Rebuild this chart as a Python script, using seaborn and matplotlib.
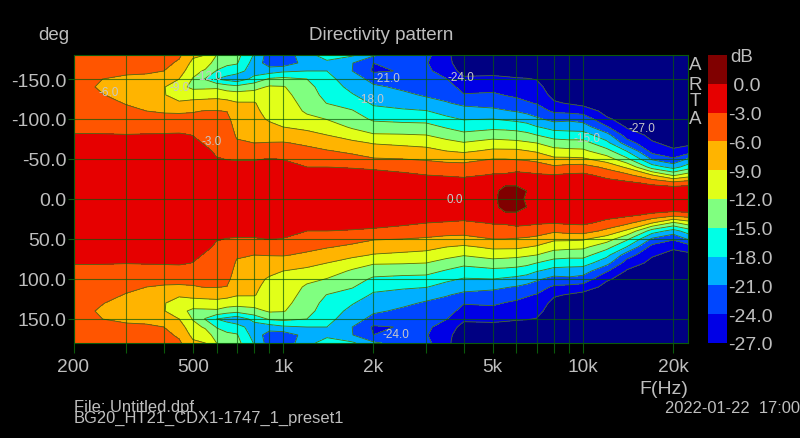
import matplotlib
matplotlib.use("Agg")
import matplotlib.pyplot as plt
from matplotlib.colors import ListedColormap, BoundaryNorm
import seaborn as sns
import pandas as pd
import numpy as np

# one side of the pattern, the other side is the mirror image
angulos = [0, 10, 20, 30, 40, 50, 60, 70, 80, 90, 100, 110, 120, 130, 140, 150, 160, 170, 180]
frecuencias = [200, 250, 300, 350, 400, 450, 500, 550, 600, 650, 700, 800, 900, 1000, 1200, 1400,
               1700, 2000, 2500, 3000, 3500, 4000, 5000, 5500, 6000, 6500, 7000, 8000, 9000, 10000,
               12000, 14000, 17000, 20000, 22400]

# dB por frecuencia
db = [
    [-.3, -.4, -.6, -.8, -1.1, -1.4, -1.8, -2.3, -2.9, -3.4, -3.8, -4.1, -4.4, -4.7, -5.0, -5.3, -5.4, -5.4, -5.3],
    [-.3, -.4, -.6, -.8, -1.1, -1.4, -1.8, -2.3, -2.9, -3.5, -4.0, -4.5, -5.1, -5.9, -6.4, -6.0, -5.6, -5.3, -5.1],
    [-.3, -.4, -.6, -.8, -1.1, -1.4, -1.8, -2.3, -2.95, -3.6, -4.4, -5.3, -6.2, -7.0, -7.2, -6.4, -5.6, -5.1, -4.8],
    [-.3, -.4, -.6, -.8, -1.1, -1.4, -1.8, -2.3, -2.85, -3.9, -5.0, -6.0, -7.0, -7.8, -7.8, -6.7, -5.6, -5.0, -4.6],
    [-.3, -.4, -.6, -.8, -1.1, -1.4, -1.8, -2.3, -2.8, -3.9, -5.1, -6.3, -7.6, -8.7, -8.8, -7.3, -6.0, -5.2, -4.6],
    [-.3, -.4, -.6, -.8, -1.1, -1.4, -1.8, -2.2, -2.7, -3.9, -5.1, -6.4, -8.4, -11.0, -11.2, -9.0, -7.6, -6.5, -5.5],
    [-.3, -.4, -.6, -.9, -1.2, -1.6, -2.0, -2.5, -3.05, -4.0, -5.2, -6.2, -8.0, -10.5, -12.6, -12.2, -11.0, -9.8, -8.4],
    [-.3, -.4, -.6, -1.0, -1.5, -2.0, -2.6, -3.2, -3.8, -4.4, -5.2, -5.9, -7.9, -10.2, -12.6, -15.2, -12.4, -10.5, -9.0],
    [-.3, -.4, -.7, -1.2, -2.0, -2.9, -3.3, -3.7, -4.1, -4.6, -5.2, -5.9, -7.8, -10.0, -12.5, -18.0, -15.2, -13.4, -12.0],
    [-.3, -.4, -.8, -1.5, -2.5, -3.05, -3.4, -3.7, -4.1, -4.6, -5.2, -6.1, -8.1, -10.4, -13.5, -19.0, -16.4, -14.3, -13.0],
    [-.3, -.5, -1.0, -1.6, -2.6, -3.1, -4.3, -5.6, -6.4, -7.0, -7.6, -8.2, -8.8, -10.6, -14.0, -20.0, -16.8, -14.7, -14.0],
    [-.3, -.5, -1.0, -1.6, -2.6, -3.1, -4.5, -6.0, -6.8, -7.4, -8.0, -8.4, -8.8, -10.7, -13.0, -17.0, -19.5, -19.3, -18.2],
    [-.3, -.5, -1.0, -1.6, -2.5, -2.95, -4.3, -5.9, -7.0, -8.2, -9.4, -10.0, -10.5, -11.0, -11.6, -14.6, -19.5, -22.5, -22.5],
    [-.3, -.5, -1.0, -1.6, -2.5, -3.05, -4.4, -5.8, -7.4, -9.0, -9.6, -10.1, -10.7, -11.2, -11.8, -14.2, -18.5, -22.8, -23.0],
    [-.3, -.5, -1.0, -1.8, -3.0, -4.1, -5.2, -6.5, -8.1, -9.7, -11.2, -12.5, -13.0, -13.5, -14.0, -15.0, -18.0, -19.8, -18.8],
    [-.3, -.5, -1.0, -1.7, -3.0, -4.6, -5.8, -7.4, -9.0, -10.6, -12.1, -13.4, -15.1, -16.0, -16.6, -17.2, -18.0, -18.6, -16.8],
    [-.3, -.5, -1.1, -1.9, -3.2, -5.0, -6.6, -8.3, -10.4, -12.4, -13.6, -14.8, -16.2, -17.8, -18.8, -19.6, -21.0, -20.9, -17.5],
    [-.3, -.6, -1.2, -2.2, -3.4, -5.8, -7.4, -9.2, -11.7, -13.6, -15.5, -17.0, -18.5, -19.5, -20.5, -22.0, -24.4, -24.0, -20.5],
    [-.3, -.6, -1.4, -2.5, -4.0, -6.0, -7.8, -9.6, -11.8, -13.8, -15.9, -17.6, -19.1, -20.3, -21.6, -22.4, -23.8, -23.8, -22.4],
    [-.3, -.7, -1.4, -3.0, -4.7, -6.3, -8.1, -10.0, -12.0, -14.0, -16.0, -17.9, -19.7, -21.4, -22.0, -22.5, -23.4, -23.8, -23.2],
    [-.3, -.7, -1.3, -3.3, -5.0, -6.7, -9.0, -11.1, -13.1, -15.3, -17.4, -19.0, -20.8, -22.0, -22.7, -23.9, -25.4, -26.2, -26.4],
    [-.3, -.8, -1.8, -3.5, -5.0, -6.9, -9.5, -11.8, -14.2, -16.3, -18.2, -19.9, -21.7, -23.8, -25.1, -26.5, -28.0, -28.6, -28.8],
    [-.15, -.4, -1.5, -2.8, -4.4, -6.0, -8.4, -10.8, -13.3, -15.8, -18.0, -20.4, -22.0, -23.5, -25.0, -26.4, -27.8, -28.6, -29.0],
    [.25, .5, -.3, -2.7, -4.4, -6.0, -8.4, -11.0, -13.5, -15.9, -18.4, -20.8, -22.5, -24.1, -25.4, -26.6, -27.9, -28.6, -29.0],
    [.3, .55, -.3, -2.2, -4.2, -6.2, -8.4, -11.2, -13.7, -16.2, -18.8, -21.2, -23.0, -24.5, -25.7, -26.8, -28.0, -28.7, -29.0],
    [-.12, -.02, -.7, -2.4, -4.4, -6.4, -8.9, -11.6, -14.1, -16.9, -19.2, -22.0, -23.7, -25.0, -25.9, -26.9, -28.0, -28.7, -29.0],
    [-.3, -.6, -1.4, -2.7, -4.6, -6.8, -9.4, -12.0, -15.0, -17.8, -20.5, -22.6, -24.2, -25.1, -26.1, -27.1, -28.0, -28.7, -29.0],
    [-.4, -.8, -1.6, -2.9, -5.5, -8.4, -10.9, -13.6, -16.4, -19.2, -22.0, -24.5, -26.6, -28.0, -28.6, -29.0, -29.2, -29.3, -29.4],
    [-.4, -.8, -1.6, -2.6, -4.9, -8.4, -11.2, -13.9, -16.7, -19.3, -21.6, -24.9, -27.3, -28.5, -29.0, -29.2, -29.3, -29.4, -29.5],
    [-.5, -.9, -1.6, -2.5, -4.7, -8.6, -11.4, -13.9, -16.7, -19.6, -22.2, -25.3, -28.0, -29.0, -29.3, -29.4, -29.5, -29.5, -29.6],
    [-.4, -.9, -2.0, -3.8, -6.8, -10.6, -14.0, -17.2, -20.0, -23.7, -26.6, -28.0, -28.8, -29.2, -29.4, -29.5, -29.5, -29.6, -29.6],
    [-.3, -.8, -2.4, -5.3, -9.6, -14.4, -18.1, -22.6, -25.4, -27.3, -28.2, -28.8, -29.2, -29.4, -29.5, -29.5, -29.6, -29.6, -29.6],
    [-.2, -.9, -3.6, -9.0, -16.5, -21.5, -25.1, -26.7, -27.8, -28.4, -28.8, -29.1, -29.3, -29.4, -29.5, -29.5, -29.6, -29.6, -29.6],
    [-.2, -.5, -4.9, -12.6, -19.2, -23.6, -26.6, -27.8, -28.3, -28.7, -29.0, -29.2, -29.3, -29.4, -29.5, -29.5, -29.6, -29.6, -29.6],
    [-.1, -.6, -4.2, -10.6, -16.6, -20.7, -25.8, -27.6, -28.2, -28.6, -28.9, -29.1, -29.3, -29.4, -29.5, -29.5, -29.6, -29.6, -29.6],
]

niveles = [-27, -24, -21, -18, -15, -12, -9, -6, -3, 0]
etiquetas_barra = ["-27.0", "-24.0", "-21.0", "-18.0", "-15.0", "-12.0", "-9.0", "-6.0", "-3.0", " 0.0"]
colores = ["#000082", "#0000e6", "#0046ff", "#00afff", "#00ffe6", "#80ff80",
           "#e1ff19", "#ffb400", "#ff5500", "#e60000", "#800000"]

# etiquetas de contorno: texto, frecuencia, angulo
rotulos = ["-6.0", "-9.0", "-12.0", "-3.0", "-21.0", "-18.0", "-24.0", "-15.0", "-27.0", "0.0", "-24.0"]
rotulos_f = [262, 453, 566, 579, 2218, 1963, 3917, 10300, 15700, 3740, 2377]
rotulos_a = [-134, -140, -154, -72, -151, -125, -152, -76, -89, 0, 169]

xticks = [200, 500, 1000, 2000, 5000, 10000, 20000]
xticklabels = ["200", "500", "1k", "2k", "5k", "10k", "20k"]
xminor = [300, 400, 600, 700, 800, 900, 3000, 4000, 6000, 7000, 8000, 9000]
yticks = [-150, -100, -50, 0, 50, 100, 150]
yticklabels = ["-150.0", "-100.0", "-50.0", "0.0", "50.0", "100.0", "150.0"]

GRIS = "#bebebe"
VERDE = "#0a5a0a"

sns.set_theme(style="dark", rc={"figure.facecolor": "black", "axes.facecolor": "black",
                                "text.color": GRIS, "xtick.color": GRIS, "ytick.color": GRIS})
plt.rcParams["font.family"] = ["Liberation Sans", "DejaVu Sans"]

fig = plt.figure(figsize=(8, 4.39), dpi=100)


def caja(x0, y0, x1, y1):
    return [x0 / 800, 1 - y1 / 439, (x1 - x0) / 800, (y1 - y0) / 439]


def texto(x, y, s, **kw):
    fig.text(x / 800, 1 - y / 439, s, va="center", color=GRIS, **kw)


ax = fig.add_axes(caja(73.5, 56, 688, 344))
tabla = pd.DataFrame(db, index=frecuencias, columns=angulos).T
z_medio = tabla.to_numpy()
z = np.vstack([z_medio[:0:-1], z_medio])
ang = np.r_[-np.array(angulos[:0:-1]), angulos]

paleta = sns.color_palette(colores)
cmap = ListedColormap(paleta)
limites = [-60] + niveles + [3]
norm = BoundaryNorm(limites, cmap.N)
ax.contourf(frecuencias, ang, z, levels=limites, cmap=cmap, norm=norm)
ax.contour(frecuencias, ang, z, levels=niveles, colors="#4e6e14", linewidths=0.6, linestyles="solid")

ax.set_xscale("log")
ax.set_xlim(200, 22400)
ax.set_ylim(180, -180)
ax.set_xticks(xticks)
ax.set_xticklabels(xticklabels, fontsize=13.8)
ax.set_xticks(xminor, minor=True)
ax.set_xticklabels([""] * len(xminor), minor=True)
ax.set_yticks(yticks)
ax.set_yticklabels(yticklabels, fontsize=14)
ax.tick_params(axis="x", which="both", length=7, width=0.8, color=VERDE, pad=4, bottom=True)
ax.tick_params(axis="y", length=4, width=0.8, color=VERDE, pad=1, left=True)
ax.grid(True, which="both", color=VERDE, linewidth=0.8, alpha=0.7)
ax.set_axisbelow(False)
for lado in ax.spines.values():
    lado.set_color(VERDE)
    lado.set_linewidth(0.8)

for s, f, a in zip(rotulos, rotulos_f, rotulos_a):
    ax.text(f, a, s, fontsize=8.5, color="#c8c8c8", ha="center", va="center")

# barra de color como heatmap de una columna
cax = fig.add_axes(caja(708, 56, 727, 344))
celdas = pd.DataFrame({"dB": list(range(10))})
sns.heatmap(celdas, ax=cax, cmap=ListedColormap(paleta[1:]), cbar=False,
            xticklabels=False, yticklabels=False, vmin=-0.5, vmax=9.5)
cax.invert_yaxis()
cax.yaxis.tick_right()
cax.set_yticks(range(0, 10))
cax.set_yticklabels(etiquetas_barra, fontsize=14, rotation=0)
cax.tick_params(axis="y", length=0, pad=1)
cax.set_ylabel("")

texto(38, 36, "deg", fontsize=13.5)
fig.text(381 / 800, 1 - 35 / 439, "Directivity pattern", ha="center", va="center", fontsize=13.5, color=GRIS)
fig.text(688 / 800, 1 - 390 / 439, "F(Hz)", ha="right", va="center", fontsize=14, color=GRIS)
for y, letra in zip([66, 85, 102, 120], "ARTA"):
    fig.text(695 / 800, 1 - y / 439, letra, ha="center", va="center", fontsize=13.5, color=GRIS)
texto(730, 57, "dB", fontsize=13.5)
texto(74, 408, "File: Untitled.dpf", fontsize=11.9)
texto(74, 418, "BG20_HT21_CDX1-1747_1_preset1", fontsize=11.9)
texto(665, 409, "2022-01-22  17:00", fontsize=11.9)

fig.savefig("out.png", dpi=100, facecolor="black")
